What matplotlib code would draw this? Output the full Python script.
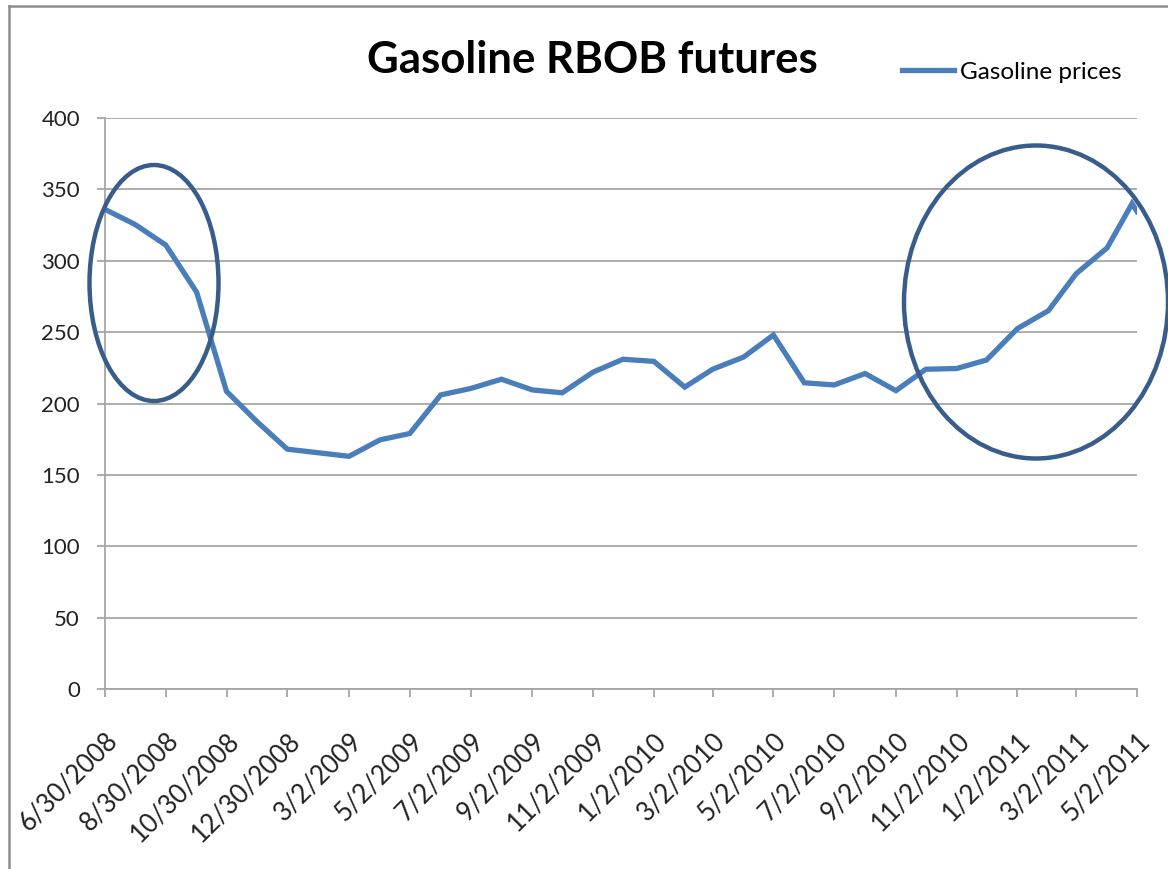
import matplotlib
matplotlib.use("Agg")
import matplotlib.pyplot as plt
from matplotlib.patches import Ellipse
from matplotlib.lines import Line2D
import pandas as pd

plt.rcParams['font.family'] = ['Lato', 'DejaVu Sans']

dates = ["6/30/2008", "7/30/2008", "8/30/2008", "9/30/2008", "10/30/2008", "11/30/2008",
         "12/30/2008", "1/30/2009", "3/2/2009", "4/2/2009", "5/2/2009", "6/2/2009",
         "7/2/2009", "8/2/2009", "9/2/2009", "10/2/2009", "11/2/2009", "12/2/2009",
         "1/2/2010", "2/2/2010", "3/2/2010", "4/2/2010", "5/2/2010", "6/2/2010",
         "7/2/2010", "8/2/2010", "9/2/2010", "10/2/2010", "11/2/2010", "12/2/2010",
         "1/2/2011", "2/2/2011", "3/2/2011", "4/2/2011", "4/27/2011", "5/2/2011"]
prices = [336, 325.5, 311, 278, 208.5, 187,
          168, 165.5, 163, 174.5, 179, 206,
          210.5, 217, 209.5, 207.5, 222, 231,
          229.5, 211.5, 224, 232.5, 248, 214.5,
          213, 221, 209, 224, 224.5, 230.5,
          252.5, 265, 291, 309, 340, 334.5]
tick_labels = ["6/30/2008", "8/30/2008", "10/30/2008", "12/30/2008", "3/2/2009", "5/2/2009",
               "7/2/2009", "9/2/2009", "11/2/2009", "1/2/2010", "3/2/2010", "5/2/2010",
               "7/2/2010", "9/2/2010", "11/2/2010", "1/2/2011", "3/2/2011", "5/2/2011"]
y_ticks = [0, 50, 100, 150, 200, 250, 300, 350, 400]
title = "Gasoline RBOB futures"
series_name = "Gasoline prices"

W, H = 1168, 869
fig = plt.figure(figsize=(W / 100, H / 100), dpi=100)
fig.patch.set_facecolor("white")

def fx(px):
    return px / W

def fy(py):
    return 1 - py / H

ax = fig.add_axes([fx(105), fy(689), fx(1137) - fx(105), fy(118) - fy(689)])

x = pd.to_datetime(dates, format="%m/%d/%Y")
ticks = pd.to_datetime(tick_labels, format="%m/%d/%Y")

ax.plot(x, prices, color="#4A7EBB", lw=3.8, solid_joinstyle="miter", zorder=3)

ax.set_xlim(ticks[0], ticks[-1])
ax.set_ylim(0, 400)
ax.set_yticks(y_ticks)
ax.set_yticklabels([str(v) for v in y_ticks], fontsize=16, color="#222222")
ax.set_xticks(ticks)
ax.set_xticklabels(tick_labels, fontsize=18.5, color="#222222", rotation=45,
                   ha="right", va="top", rotation_mode="anchor")

grid_c = "#A6A6A6"
ax.grid(axis="y", color=grid_c, lw=1.3)
ax.set_axisbelow(True)
for s in ["top", "right"]:
    ax.spines[s].set_visible(False)
ax.spines["left"].set_color(grid_c)
ax.spines["bottom"].set_color(grid_c)
ax.spines["left"].set_linewidth(1.3)
ax.spines["bottom"].set_linewidth(1.3)
ax.tick_params(axis="both", direction="out", length=6, width=1.3, color=grid_c)
ax.tick_params(axis="y", pad=12)
ax.tick_params(axis="x", pad=22)

fig.text(fx(592), fy(60), title, fontsize=31.5, fontweight="bold", ha="center", va="center",
         color="black")

handle = Line2D([], [], color="#4A7EBB", lw=3.8)
fig.legend([handle], [series_name], loc="center left",
           bbox_to_anchor=(fx(902), fy(72)), frameon=False, fontsize=17.5,
           handlelength=2.15, handletextpad=0.25, borderpad=0, borderaxespad=0)

# annotation ellipses
e1 = Ellipse((fx(154), fy(283)), fx(129), 236 / H, transform=fig.transFigure,
             fill=False, edgecolor="#385D8A", lw=3.2, zorder=5)
e2 = Ellipse((fx(1036), fy(302)), fx(264), 313 / H, transform=fig.transFigure,
             fill=False, edgecolor="#385D8A", lw=3.2, zorder=5)
fig.add_artist(e1)
fig.add_artist(e2)

# chart area border (left and top visible)
fig.add_artist(Line2D([fx(8.5), fx(8.5)], [0, fy(6)], transform=fig.transFigure,
                      color="#8C8C8C", lw=1.8))
fig.add_artist(Line2D([fx(8.5), 1], [fy(6), fy(6)], transform=fig.transFigure,
                      color="#8C8C8C", lw=1.8))

fig.savefig("out.png", dpi=100)
